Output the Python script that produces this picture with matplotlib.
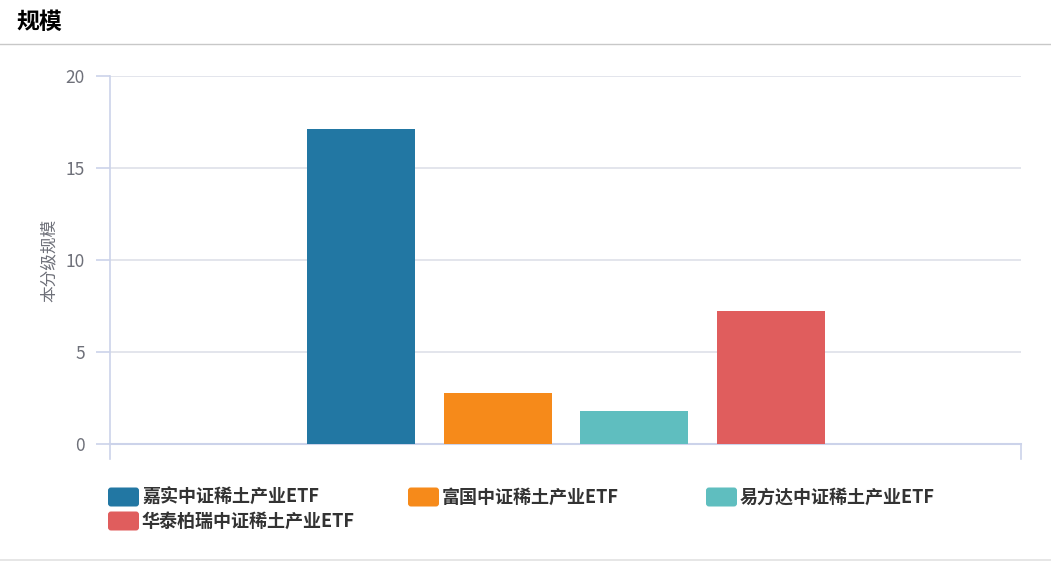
import numpy as np
import matplotlib.pyplot as plt
from matplotlib.patches import FancyBboxPatch

plt.rcParams['font.family'] = ['Noto Sans CJK SC', 'DejaVu Sans']

# 数据
names  = ['嘉实中证稀土产业ETF', '富国中证稀土产业ETF', '易方达中证稀土产业ETF', '华泰柏瑞中证稀土产业ETF']
values = [17.12, 2.77, 1.79, 7.24]
colors = ['#2277a3', '#f68a1a', '#5fbebf', '#e05d5d']
yticks = [0, 5, 10, 15, 20]

W, H = 1051, 561
fig = plt.figure(figsize=(W/100, H/100), dpi=100)

# 背景层 (像素坐标)
bg = fig.add_axes([0, 0, 1, 1])
bg.set_xlim(0, W)
bg.set_ylim(H, 0)
bg.axis('off')
bg.text(16, 22, '规模', fontsize=16.5, fontweight='bold', color='#000000', va='center', ha='left')
bg.plot([0, W], [43.5, 43.5], color='#c8c8c8', lw=1)
bg.plot([0, W], [560, 560], color='#e2e2e2', lw=1.2)

# 主图
x0, x1, ytop, ybot = 110, 1021, 76.3, 444.3
ax = fig.add_axes([x0/W, (H-ybot)/H, (x1-x0)/W, (ybot-ytop)/H])
step = 136.5
xs = np.arange(len(values))
ax.bar(xs, values, width=108/step, color=colors, zorder=3)
ax.set_xlim((x0-361)/step, (x1-361)/step)
ax.set_ylim(0, 20)
ax.set_yticks(yticks)
ax.set_xticks([])
for y in yticks[1:]:
    ax.axhline(y, color='#e0e3ea', lw=1.3, zorder=1)
for s in ['top', 'right']:
    ax.spines[s].set_visible(False)
ax.spines['left'].set_color('#ccd3ea')
ax.spines['bottom'].set_color('#ccd3ea')
ax.spines['left'].set_linewidth(1.2)
ax.spines['bottom'].set_linewidth(1.5)
ax.tick_params(axis='y', length=10, width=1.2, color='#ccd3ea', labelsize=12.5,
               labelcolor='#6e7079', pad=8)
ax.set_ylabel('本分级规模', fontsize=12, color='#6e7079', labelpad=6)

# x轴两端刻度
bg.plot([x0, x0], [ybot, 459], color='#ccd3ea', lw=1.2)
bg.plot([x1, x1], [ybot, 459], color='#ccd3ea', lw=1.2)

# 图例
leg_pos = [(108, 497), (408, 497), (706, 497), (108, 521)]
for (lx, ly), nm, c in zip(leg_pos, names, colors):
    bg.add_patch(FancyBboxPatch((lx+3, ly-6.5), 25, 13,
                                boxstyle='round,pad=3', fc=c, ec='none'))
    bg.text(lx+34, ly, nm, fontsize=13, fontweight='bold', color='#333333',
            va='center', ha='left')

fig.savefig('out.png', dpi=100)
